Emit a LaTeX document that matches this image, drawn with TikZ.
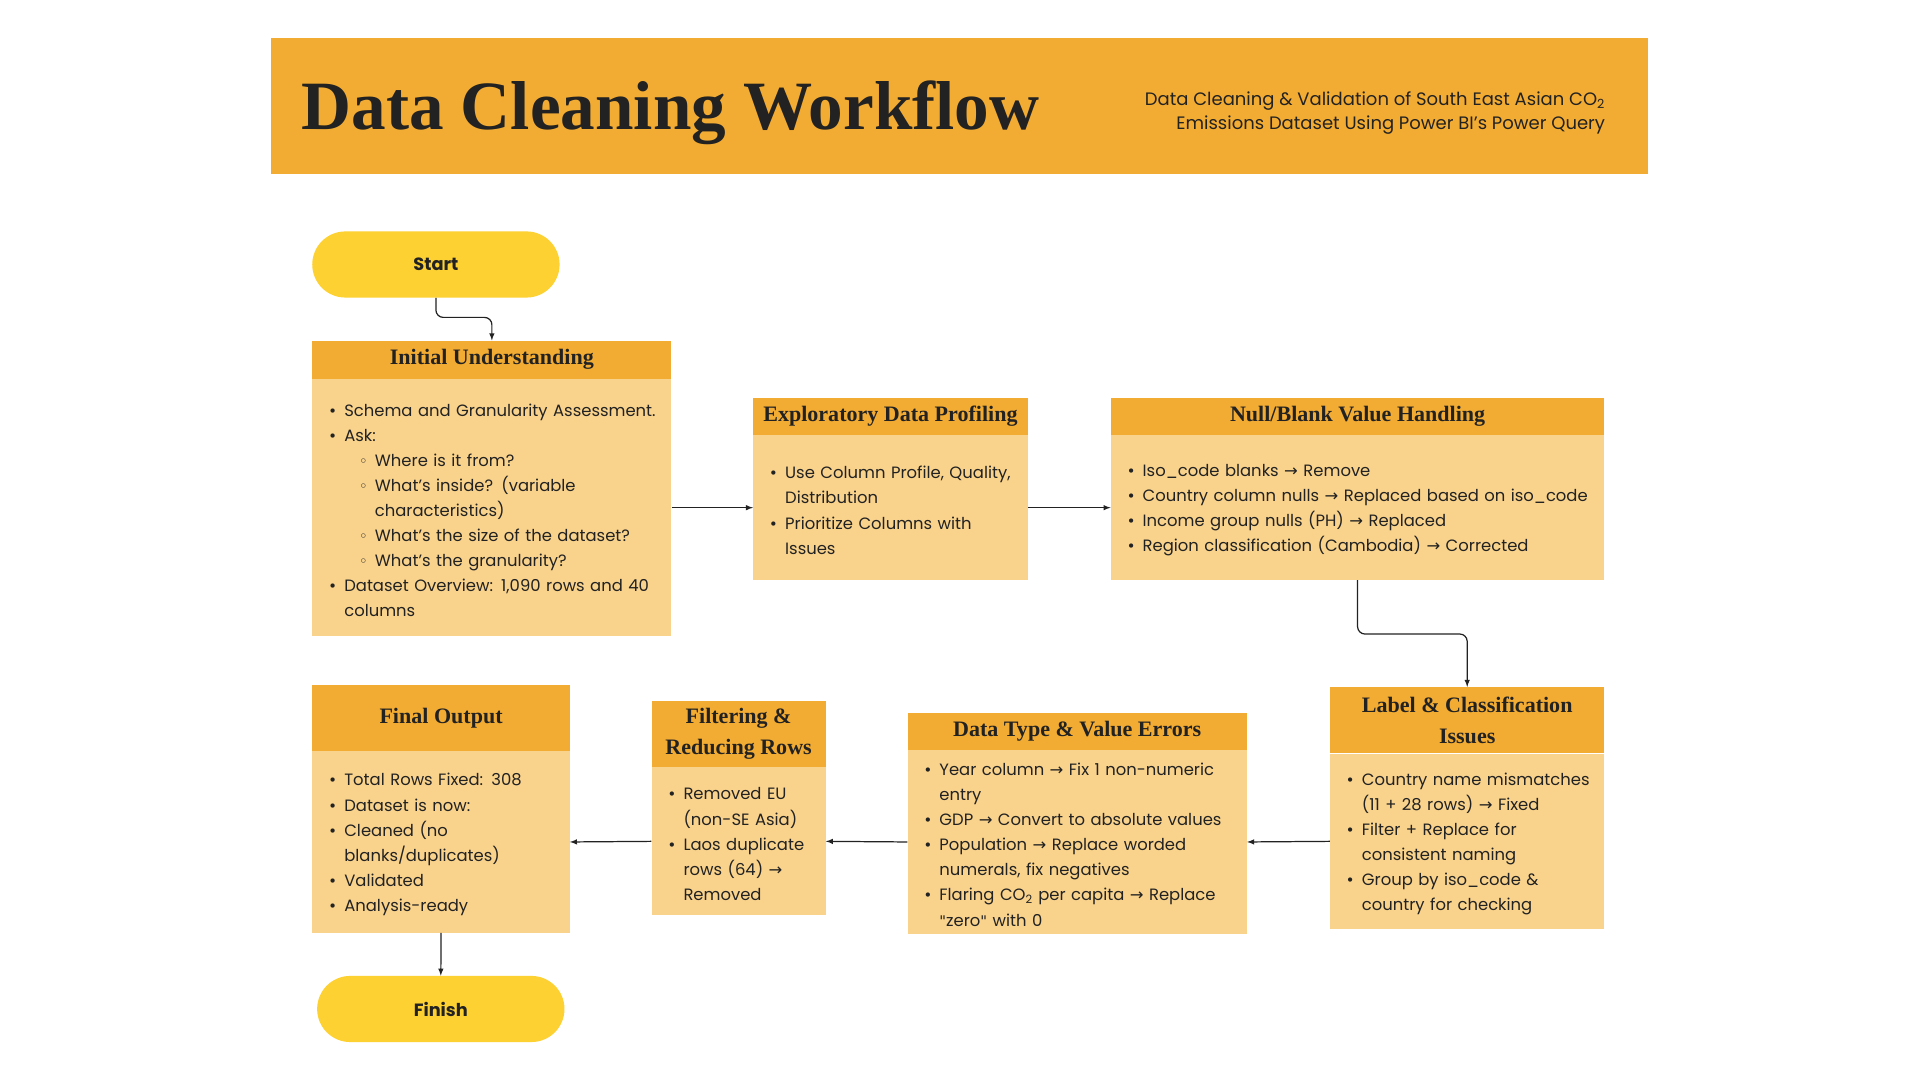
\documentclass[tikz,border=0pt]{standalone}
\usepackage{fontspec}
\setmainfont{Poppins}
\newfontfamily\serifhead{Liberation Serif}
\newfontfamily\symf{DejaVu Sans}
\usetikzlibrary{positioning,arrows.meta}

\definecolor{barorange}{HTML}{F3AC33}
\definecolor{bodyfill}{HTML}{F9D38C}
\definecolor{pillyellow}{HTML}{FDD131}
\definecolor{inkdark}{HTML}{222222}

\newcommand{\bodyfont}{\fontsize{13.4}{20.5}\selectfont}
\newcommand{\bodyend}{\par\vspace*{6pt}}
\newcommand{\ra}{{\symf →}}
\newcommand{\dq}{{\symf\fontsize{12}{12}\selectfont\char34}}
\newcommand{\itm}[1]{\par\noindent\leftskip=13pt\hangindent=13pt\hangafter=1\makebox[13pt][l]{\symf\fontsize{12}{12}\selectfont •}#1\par}
\newcommand{\subitm}[1]{\par\noindent\leftskip=13pt\hangindent=38pt\hangafter=1\hspace*{25pt}\makebox[13pt][l]{\symf\fontsize{12}{12}\selectfont ◦}#1\par}

\begin{document}
\begin{tikzpicture}[x=1pt, y=-1pt,
  head/.style={fill=barorange, inner sep=0pt, text=inkdark, align=center, anchor=north west,
    font=\serifhead\bfseries\fontsize{18}{25}\selectfont},
  body/.style={fill=bodyfill, inner sep=0pt, text=inkdark, align=left, font=\bodyfont,
    execute at end node=\bodyend},
  pill/.style={fill=pillyellow, rounded corners=27pt, inner sep=0pt, minimum width=202pt, minimum height=54pt,
    text=inkdark, font=\bfseries\fontsize{14.5}{16}\selectfont},
  arr/.style={-latex, line width=1pt, draw=inkdark}]

\fill[white] (0,0) rectangle (1568,882);
\useasboundingbox (0,0) rectangle (1568,882);

% title bar
\node[fill=barorange, inner sep=0pt, minimum width=1125pt, minimum height=111pt, anchor=north west] (titlebar) at (221,31) {};
\node[anchor=base west, inner sep=0pt, text=inkdark, font=\serifhead\bfseries\fontsize{56.5}{60}\selectfont] (title) at (246,106) {Data Cleaning Workflow};
\node[anchor=east, inner sep=0pt, align=right, text=inkdark, font=\fontsize{14.7}{19.5}\selectfont] (subtitle) at (1311,92)
  {Data Cleaning \& Validation of South East Asian CO\textsubscript{2}\\Emissions Dataset Using Power BI’s Power Query};

% start / finish
\node[pill] (start) at (356,216) {Start};
\node[pill] (finish) at (360,824) {Finish};

% top row
\node[head, minimum width=293pt, minimum height=31pt] (initH) at (255,278) {Initial Understanding};
\node[body, text width=293pt, minimum height=210pt, below=0pt of initH] (init) {%
  \itm{Schema and Granularity Assessment.}
  \itm{Ask:}
  \subitm{Where is it from?}
  \subitm{What’s inside? (variable\newline characteristics)}
  \subitm{What’s the size of the dataset?}
  \subitm{What’s the granularity?}
  \itm{Dataset Overview: 1,090 rows and 40\newline columns}};

\node[head, minimum width=224pt, minimum height=30pt] (exploreH) at (615,325) {Exploratory Data Profiling};
\node[body, text width=224pt, minimum height=118pt, below=0pt of exploreH] (explore) {%
  \itm{Use Column Profile, Quality,\newline Distribution}
  \itm{Prioritize Columns with\newline Issues}};

\node[head, minimum width=403pt, minimum height=30pt] (nullH) at (907,325) {Null/Blank Value Handling};
\node[body, text width=403pt, minimum height=118pt, below=0pt of nullH] (null) {%
  \itm{Iso\_code blanks \ra{} Remove}
  \itm{Country column nulls \ra{} Replaced based on iso\_code}
  \itm{Income group nulls (PH) \ra{} Replaced}
  \itm{Region classification (Cambodia) \ra{} Corrected}};

% bottom row
\node[head, minimum width=224pt, minimum height=54pt] (labelH) at (1086,561) {Label \& Classification\\Issues};
\node[body, text width=224pt, minimum height=143pt, below=0pt of labelH] (label) {%
  \itm{Country name mismatches\newline (11 + 28 rows) \ra{} Fixed}
  \itm{Filter + Replace for\newline consistent naming}
  \itm{Group by iso\_code \&\newline country for checking}};

\node[head, minimum width=277pt, minimum height=30pt] (dtypeH) at (741,582) {Data Type \& Value Errors};
\node[body, text width=277pt, minimum height=150pt, below=0pt of dtypeH] (dtype) {%
  \itm{Year column \ra{} Fix 1 non-numeric\newline entry}
  \itm{GDP \ra{} Convert to absolute values}
  \itm{Population \ra{} Replace worded\newline numerals, fix negatives}
  \itm{Flaring CO\textsubscript{2} per capita \ra{} Replace\newline \dq zero\dq{} with 0}};

\node[head, minimum width=142pt, minimum height=54pt] (filtH) at (532,572) {Filtering \&\\Reducing Rows};
\node[body, text width=142pt, minimum height=121pt, below=0pt of filtH] (filt) {%
  \itm{Removed EU\newline (non-SE Asia)}
  \itm{Laos duplicate\newline rows (64) \ra\newline Removed}};

\node[head, minimum width=210pt, minimum height=54pt] (finalH) at (255,559) {Final Output};
\node[body, text width=210pt, minimum height=148pt, below=0pt of finalH] (final) {%
  \itm{Total Rows Fixed: 308}
  \itm{Dataset is now:}
  \itm{Cleaned (no\newline blanks/duplicates)}
  \itm{Validated}
  \itm{Analysis-ready}};

% connectors
\draw[arr, rounded corners=6pt] (start.south) -- ++(0,16) -| (initH.north);
\draw[arr] (init.east) -- (explore.west);
\draw[arr] (explore.east) -- (null.west);
\draw[arr, rounded corners=6pt] (null.south) -- ++(0,44) -| (labelH.north);
\draw[arr] (label.west) -- (dtype.east);
\draw[arr] (dtype.west) -- (filt.east);
\draw[arr] (filt.west) -- (final.east);
\draw[arr] (final.south) -- (finish.north);
\end{tikzpicture}
\end{document}
